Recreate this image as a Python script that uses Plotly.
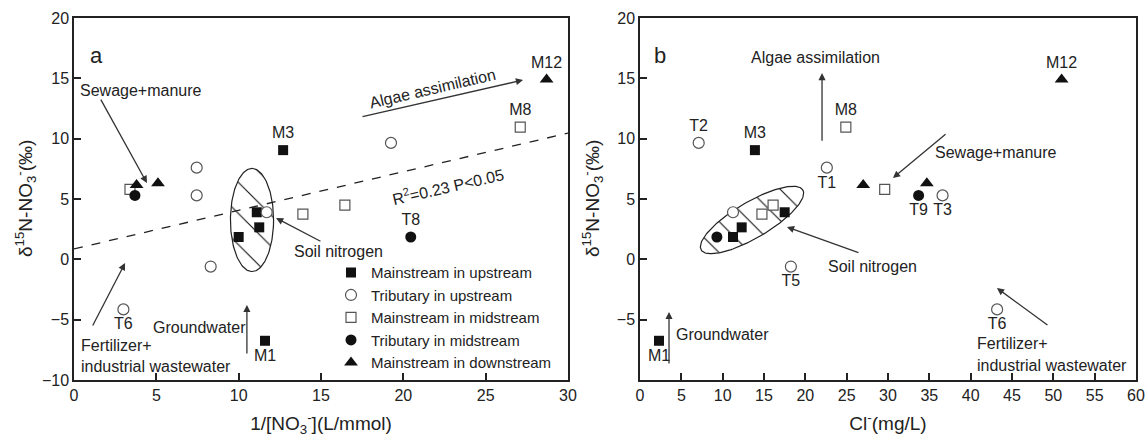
import numpy as np
import plotly.graph_objects as go

# ---------------- data ----------------
group_names = ["Mainstream in upstream", "Tributary in upstream",
               "Mainstream in midstream", "Tributary in midstream",
               "Mainstream in downstream"]

# Mainstream in upstream (filled squares)
ms_up_d15n = [-6.75, 9.05, 3.9, 2.65, 1.85]
ms_up_inv_no3 = [11.6, 12.7, 11.1, 11.25, 10.0]
ms_up_cl = [2.3, 13.9, 17.5, 12.3, 11.25]
ms_up_lab_a = ["M1", "M3", "", "", ""]
ms_up_lab_b = ["M1", "M3", "", "", ""]

# Tributary in upstream (open circles)
tr_up_d15n = [7.6, 9.65, 5.3, -0.6, -4.15, 3.9]
tr_up_inv_no3 = [7.45, 19.25, 7.45, 8.3, 3.0, 11.7]
tr_up_cl = [22.6, 7.1, 36.6, 18.25, 43.2, 11.25]
tr_up_lab_a = ["", "", "", "", "T6", ""]
tr_up_lab_b = ["T1", "T2", "T3", "T5", "T6", ""]

# Mainstream in midstream (open squares)
ms_mid_d15n = [10.95, 5.8, 3.75, 4.5]
ms_mid_inv_no3 = [27.1, 3.4, 13.9, 16.45]
ms_mid_cl = [24.9, 29.6, 14.75, 16.1]
ms_mid_lab_a = ["M8", "", "", ""]
ms_mid_lab_b = ["M8", "", "", ""]

# Tributary in midstream (filled circles)
tr_mid_d15n = [1.85, 5.3]
tr_mid_inv_no3 = [20.45, 3.7]
tr_mid_cl = [9.3, 33.7]
tr_mid_lab_a = ["T8", ""]
tr_mid_lab_b = ["", "T9"]

# Mainstream in downstream (filled triangles)
ms_down_d15n = [6.15, 6.3, 14.9]
ms_down_inv_no3 = [3.8, 5.1, 28.7]
ms_down_cl = [27.0, 34.7, 51.0]
ms_down_lab_a = ["", "", "M12"]
ms_down_lab_b = ["", "", "M12"]

# regression in panel a
reg_intercept = 0.86
reg_slope = 0.32
reg_text = "R<sup>2</sup>=0.23 P<0.05"

x_ticks_a = [0, 5, 10, 15, 20, 25, 30]
x_ticks_b = [0, 5, 10, 15, 20, 25, 30, 35, 40, 45, 50, 55, 60]
y_ticks_a = [-10, -5, 0, 5, 10, 15, 20]
y_ticks_b = [-5, 0, 5, 10, 15, 20]

# ---------------- layout geometry ----------------
FIG_W, FIG_H = 1148, 444
ML, MR, MT, MB = 74, 12, 18, 64
PW = FIG_W - ML - MR
PH = FIG_H - MT - MB
dom_a = [0, 494 / PW]
dom_b = [566 / PW, 1.0]
XR_A = [0, 30]
XR_B = [0, 60]
YR = [-10, 20]

FONT = "Liberation Sans, Arial, sans-serif"
TXT = "#222"
BLACK = "#111"
GRAY = "#555"

label_pos_a = {"M1": "bottom center", "M3": "top center", "T6": "bottom center",
               "M8": "top center", "T8": "top center", "M12": "top center"}
label_pos_b = {"M1": "bottom center", "M3": "top center", "T1": "bottom center",
               "T2": "top center", "T3": "bottom center", "T5": "bottom center",
               "T6": "bottom center", "M8": "top center", "T9": "bottom center",
               "M12": "top center"}

fig = go.Figure()

# ---------- hatched ellipses ----------
t = np.linspace(0, 2 * np.pi, 181)
hatch = dict(shape="\\", fgcolor="#111", fgopacity=1, bgcolor="white", size=22,
             solidity=0.05, fillmode="replace")
# panel a: upright ellipse (data units)
ea_cx, ea_cy, ea_rx, ea_ry = 10.81, 3.26, 1.31, 4.27
fig.add_trace(go.Scatter(
    x=ea_cx + ea_rx * np.cos(t), y=ea_cy + ea_ry * np.sin(t),
    mode="lines", fill="toself", fillcolor="white", line=dict(color="#222", width=1.2),
    fillpattern=hatch, showlegend=False, hoverinfo="skip", xaxis="x", yaxis="y"))
# panel b: tilted ellipse defined in screen pixels
kx_b = (dom_b[1] - dom_b[0]) * PW / (XR_B[1] - XR_B[0])
ky = PH / (YR[1] - YR[0])
eb_cx, eb_cy, eb_a, eb_b, eb_th = 13.55, 3.26, 59.0, 18.0, np.deg2rad(30.5)
ex_px = eb_a * np.cos(t) * np.cos(eb_th) - eb_b * np.sin(t) * np.sin(eb_th)
ey_px = eb_a * np.cos(t) * np.sin(eb_th) + eb_b * np.sin(t) * np.cos(eb_th)
fig.add_trace(go.Scatter(
    x=eb_cx + ex_px / kx_b, y=eb_cy + ey_px / ky,
    mode="lines", fill="toself", fillcolor="white", line=dict(color="#222", width=1.2),
    fillpattern=hatch, showlegend=False, hoverinfo="skip", xaxis="x2", yaxis="y2"))

# ---------- regression line (panel a) ----------
fig.add_trace(go.Scatter(
    x=XR_A, y=[reg_intercept + reg_slope * v for v in XR_A],
    mode="lines", line=dict(color="#222", width=1.3, dash="dash"),
    showlegend=False, hoverinfo="skip", xaxis="x", yaxis="y"))

# ---------- markers ----------
styles = {
    "Mainstream in upstream": dict(symbol="square", size=10, color=BLACK, line=dict(width=0)),
    "Tributary in upstream": dict(symbol="circle", size=11, color="white", line=dict(color=GRAY, width=1.2)),
    "Mainstream in midstream": dict(symbol="square", size=10, color="white", line=dict(color=GRAY, width=1.2)),
    "Tributary in midstream": dict(symbol="circle", size=11, color=BLACK, line=dict(width=0)),
    "Mainstream in downstream": dict(symbol="triangle-up", size=12, color=BLACK, line=dict(width=0)),
}

series = [
    ("Mainstream in midstream", ms_mid_inv_no3, ms_mid_cl, ms_mid_d15n, ms_mid_lab_a, ms_mid_lab_b, 3),
    ("Mainstream in upstream", ms_up_inv_no3, ms_up_cl, ms_up_d15n, ms_up_lab_a, ms_up_lab_b, 1),
    ("Tributary in upstream", tr_up_inv_no3, tr_up_cl, tr_up_d15n, tr_up_lab_a, tr_up_lab_b, 2),
    ("Tributary in midstream", tr_mid_inv_no3, tr_mid_cl, tr_mid_d15n, tr_mid_lab_a, tr_mid_lab_b, 4),
    ("Mainstream in downstream", ms_down_inv_no3, ms_down_cl, ms_down_d15n, ms_down_lab_a, ms_down_lab_b, 5),
]


def label_trace(xs, ys, labels, mapping, xa, ya):
    keep = [i for i, l in enumerate(labels) if l]
    lx = [xs[i] for i in keep]
    ly = [ys[i] for i in keep]
    lt = [labels[i] for i in keep]
    return go.Scatter(
        x=lx, y=ly, text=lt, mode="markers+text",
        textposition=[mapping.get(l, "top center") for l in lt],
        textfont=dict(family=FONT, size=16, color=TXT),
        marker=dict(size=11, color="rgba(0,0,0,0)"), showlegend=False, hoverinfo="skip",
        xaxis=xa, yaxis=ya, cliponaxis=False)


for name, xa, xb, yv, la, lb, rank in series:
    fig.add_trace(go.Scatter(
        x=xa, y=yv, mode="markers", name=name,
        marker=styles[name], legendrank=rank, showlegend=True,
        xaxis="x", yaxis="y", cliponaxis=False))
    fig.add_trace(go.Scatter(
        x=xb, y=yv, mode="markers", name=name,
        marker=styles[name], showlegend=False,
        xaxis="x2", yaxis="y2", cliponaxis=False))

for name, xa, xb, yv, la, lb, rank in series:
    if any(la):
        fig.add_trace(label_trace(xa, yv, la, label_pos_a, "x", "y"))
    if any(lb):
        fig.add_trace(label_trace(xb, yv, lb, label_pos_b, "x2", "y2"))

# ---------- annotations ----------
ann = []


def text_ann(x, y, s, xr, yr, size=16, angle=0, xanchor="center"):
    ann.append(dict(x=x, y=y, xref=xr, yref=yr, text=s, showarrow=False,
                    font=dict(family=FONT, size=size, color=TXT),
                    textangle=angle, xanchor=xanchor, yanchor="middle"))


def arrow(x0, y0, x1, y1, xr, yr):
    ann.append(dict(x=x1, y=y1, ax=x0, ay=y0, xref=xr, yref=yr, axref=xr, ayref=yr,
                    text="", showarrow=True, arrowhead=2, arrowsize=1.1,
                    arrowwidth=1.3, arrowcolor="#333", standoff=0, startstandoff=0))


# panel a
text_ann(1.34, 16.93, "a", "x", "y", size=22)
text_ann(4.07, 14.03, "Sewage+manure", "x", "y")
arrow(1.58, 13.36, 4.43, 6.32, "x", "y")
text_ann(21.8, 14.19, "Algae assimilation", "x", "y", angle=-13)
arrow(17.43, 11.79, 27.27, 14.86, "x", "y")
text_ann(22.71, 6.08, reg_text, "x", "y", angle=-13)
text_ann(16.09, 0.61, "Soil nitrogen", "x", "y")
arrow(15.06, 1.43, 12.27, 3.42, "x", "y")
text_ann(7.65, -5.69, "Groundwater", "x", "y")
arrow(10.5, -7.92, 10.5, -3.78, "x", "y")
text_ann(0.3, -7.1, "Fertilizer+", "x", "y", xanchor="left")
text_ann(0.3, -8.84, "industrial wastewater", "x", "y", xanchor="left")
arrow(1.09, -5.61, 3.10, -0.31, "x", "y")

# panel b
text_ann(2.42, 16.93, "b", "x2", "y2", size=22)
text_ann(21.17, 16.76, "Algae assimilation", "x2", "y2")
arrow(22.02, 9.71, 22.02, 15.44, "x2", "y2")
text_ann(43.06, 8.89, "Sewage+manure", "x2", "y2")
arrow(37.14, 10.47, 30.6, 6.74, "x2", "y2")
text_ann(28.18, -0.56, "Soil nitrogen", "x2", "y2")
arrow(26.61, 0.52, 17.78, 2.68, "x2", "y2")
text_ann(9.92, -6.27, "Groundwater", "x2", "y2")
arrow(3.51, -8.76, 3.51, -4.36, "x2", "y2")
text_ann(40.52, -6.94, "Fertilizer+", "x2", "y2", xanchor="left")
text_ann(40.52, -8.76, "industrial wastewater", "x2", "y2", xanchor="left")
arrow(49.47, -5.53, 43.18, -2.38, "x2", "y2")

# y-axis titles (placed as rotated paper annotations)
ytitle = "δ<sup>15</sup>N-NO<sub>3</sub><sup>-</sup>(‰)"
for px in (25, 592):
    ann.append(dict(x=(px - ML) / PW, y=0.5, xref="paper", yref="paper", text=ytitle,
                    showarrow=False, textangle=-90, xanchor="center", yanchor="middle",
                    font=dict(family=FONT, size=19, color=TXT)))

axis_common = dict(showgrid=False, zeroline=False, showline=True, linecolor="#222",
                   linewidth=1.5, mirror=True, ticks="inside", ticklen=7, tickwidth=1.5,
                   tickcolor="#222", tickfont=dict(family=FONT, size=16, color=TXT),
                   automargin=False)

fig.update_layout(
    width=FIG_W, height=FIG_H,
    margin=dict(l=ML, r=MR, t=MT, b=MB),
    paper_bgcolor="white", plot_bgcolor="white",
    font=dict(family=FONT, color=TXT),
    xaxis=dict(domain=dom_a, range=XR_A, tickvals=x_ticks_a, anchor="y",
               title=dict(text="1/[NO<sub>3</sub><sup>-</sup>](L/mmol)",
                          font=dict(family=FONT, size=19, color=TXT), standoff=14),
               **axis_common),
    yaxis=dict(domain=[0, 1], range=YR, tickvals=y_ticks_a, anchor="x", **axis_common),
    xaxis2=dict(domain=dom_b, range=XR_B, tickvals=x_ticks_b, anchor="y2",
                title=dict(text="Cl<sup>-</sup>(mg/L)",
                           font=dict(family=FONT, size=19, color=TXT), standoff=14),
                **axis_common),
    yaxis2=dict(domain=[0, 1], range=YR, tickvals=y_ticks_b, anchor="x2", **axis_common),
    legend=dict(x=257 / PW, y=0.342, xanchor="left", yanchor="top",
                bgcolor="rgba(0,0,0,0)", borderwidth=0,
                font=dict(family=FONT, size=15, color=TXT), tracegroupgap=0),
    annotations=ann,
    showlegend=True,
)

# remove the default 8px page margin so the 1148x444 figure fills the window exactly
fig.write_html("out.html", config={"displayModeBar": False},
               post_script="document.body.style.margin='0';")
